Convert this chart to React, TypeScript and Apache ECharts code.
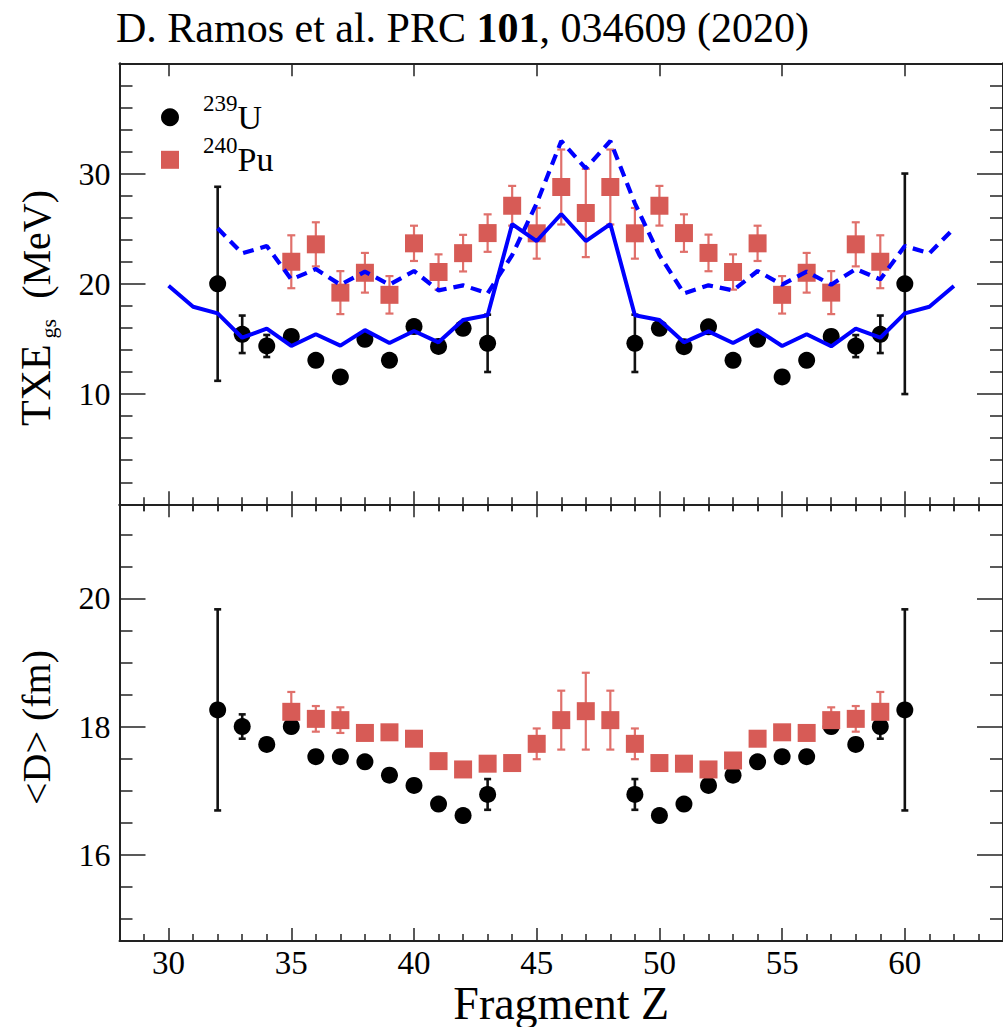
import React, { useEffect, useRef } from 'react';
import * as echarts from 'echarts';

const FONT = 'Liberation Serif';

// ---------- tick values ----------
const xMajor = [30, 35, 40, 45, 50, 55, 60];
const xMinor = [29, 31, 32, 33, 34, 36, 37, 38, 39, 41, 42, 43, 44, 46, 47, 48, 49, 51, 52, 53, 54, 56, 57, 58, 59, 61, 62, 63];
const topYMajor = [0, 10, 20, 30, 40];
const topYLabels = [10, 20, 30];
const topYMinor = [2, 4, 6, 8, 12, 14, 16, 18, 22, 24, 26, 28, 32, 34, 36, 38];
const botYMajor = [16, 18, 20];
const botYMinor = [15, 15.5, 16.5, 17, 17.5, 18.5, 19, 19.5, 20.5, 21];

// ---------- data: 239U ----------
const zU = [32, 33, 34, 35, 36, 37, 38, 39, 40, 41, 42, 43, 49, 50, 51, 52, 53, 54, 55, 56, 57, 58, 59, 60];
const uTxe = [20.0, 15.42, 14.36, 15.23, 13.06, 11.55, 14.96, 13.06, 16.12, 14.32, 15.96, 14.6, 14.6, 15.96, 14.3, 16.1, 13.06, 14.96, 11.55, 13.06, 15.23, 14.35, 15.42, 20.0];
const uTxeErr = [8.8, 1.7, 1.0, 0, 0, 0, 0, 0, 0, 0, 0, 2.6, 2.6, 0, 0, 0, 0, 0, 0, 0, 0, 1.0, 1.7, 10.0];
const uD = [18.26, 18.0, 17.72, 18.0, 17.53, 17.53, 17.45, 17.24, 17.08, 16.79, 16.61, 16.94, 16.94, 16.61, 16.79, 17.08, 17.24, 17.45, 17.53, 17.53, 18.0, 17.72, 18.0, 18.26];
const uDErr = [1.57, 0.19, 0, 0, 0, 0, 0, 0, 0, 0, 0, 0.24, 0.24, 0, 0, 0, 0, 0, 0, 0, 0, 0, 0.19, 1.57];

// ---------- data: 240Pu ----------
const zPu = [35, 36, 37, 38, 39, 40, 41, 42, 43, 44, 45, 46, 47, 48, 49, 50, 51, 52, 53, 54, 55, 56, 57, 58, 59];
const puTxe = [22.0, 23.58, 19.2, 21.0, 19.0, 23.67, 21.07, 22.78, 24.6, 27.08, 24.58, 28.78, 26.42, 28.78, 24.58, 27.08, 24.6, 22.8, 21.07, 23.67, 19.0, 21.0, 19.2, 23.58, 22.0];
const puTxeErr = [2.4, 2.0, 1.95, 1.8, 1.7, 1.6, 1.6, 1.66, 1.7, 1.8, 2.3, 3.4, 4.0, 3.4, 2.3, 1.8, 1.7, 1.66, 1.6, 1.6, 1.7, 1.8, 1.95, 2.0, 2.4];
const puD = [18.23, 18.12, 18.1, 17.9, 17.91, 17.81, 17.46, 17.33, 17.42, 17.43, 17.73, 18.1, 18.24, 18.1, 17.73, 17.43, 17.42, 17.33, 17.47, 17.81, 17.91, 17.9, 18.1, 18.12, 18.23];
const puDErr = [0.31, 0.2, 0.2, 0.05, 0.05, 0, 0, 0, 0, 0.05, 0.24, 0.46, 0.6, 0.46, 0.24, 0.05, 0, 0, 0, 0, 0.05, 0.05, 0.2, 0.2, 0.31];

// ---------- theory curves ----------
const zTheoU = [30, 31, 32, 33, 34, 35, 36, 37, 38, 39, 40, 41, 42, 43, 44, 45, 46, 47, 48, 49, 50, 51, 52, 53, 54, 55, 56, 57, 58, 59, 60, 61, 62];
const theoU = [19.83, 17.92, 17.32, 15.11, 15.93, 14.36, 15.42, 14.39, 15.8, 14.63, 15.72, 14.69, 16.72, 17.14, 25.42, 23.88, 26.33, 23.88, 25.42, 17.14, 16.72, 14.69, 15.68, 14.63, 15.8, 14.36, 15.42, 14.33, 15.93, 15.11, 17.32, 17.92, 19.8];
const zTheoPu = [32, 33, 34, 35, 36, 37, 38, 39, 40, 41, 42, 43, 44, 45, 46, 47, 48, 49, 50, 51, 52, 53, 54, 55, 56, 57, 58, 59, 60, 61, 62];
const theoPu = [25.03, 22.76, 23.43, 20.4, 21.34, 19.92, 21.1, 19.92, 21.16, 19.4, 19.86, 19.13, 22.6, 27.3, 32.95, 30.47, 32.95, 27.3, 22.6, 19.13, 19.86, 19.4, 21.16, 19.92, 21.1, 19.92, 21.34, 20.4, 23.43, 22.76, 25.03];

const AXIS_COLOR = '#222';
const RED = '#d75b56';
const RED_ERR = '#e0706b';
const BLUE = '#0000ff';

const pairs = (xs: number[], ys: number[]) => xs.map((x, i) => [x, ys[i]]);
const errData = (xs: number[], ys: number[], es: number[]) =>
  xs.map((x, i) => [x, ys[i] - es[i], ys[i] + es[i], es[i]]).filter((d) => d[3] > 0);

function errSeries(data: number[][], color: string, width: number, cap: number, axisIdx: number) {
  return {
    type: 'custom',
    xAxisIndex: axisIdx,
    yAxisIndex: axisIdx,
    z: 2,
    silent: true,
    encode: { x: 0, y: [1, 2] },
    data,
    renderItem: (_params: any, api: any) => {
      const x = api.value(0);
      const lo = api.coord([x, api.value(1)]);
      const hi = api.coord([x, api.value(2)]);
      const style = { stroke: color, lineWidth: width };
      return {
        type: 'group',
        children: [
          { type: 'line', shape: { x1: lo[0], y1: lo[1], x2: hi[0], y2: hi[1] }, style },
          { type: 'line', shape: { x1: lo[0] - cap, y1: lo[1], x2: lo[0] + cap, y2: lo[1] }, style },
          { type: 'line', shape: { x1: hi[0] - cap, y1: hi[1], x2: hi[0] + cap, y2: hi[1] }, style },
        ],
      };
    },
  };
}

function makeX(gridIndex: number, labels: boolean) {
  const base: any = { type: 'value', gridIndex, min: 28, max: 64, splitLine: { show: false } };
  const line = { show: true, onZero: false, lineStyle: { color: AXIS_COLOR, width: 2 } };
  const tickStyle = { color: AXIS_COLOR, width: 1.5 };
  const major = { show: true, inside: true, length: 13, customValues: xMajor, lineStyle: tickStyle };
  const minor = { show: true, inside: true, length: 7, customValues: xMinor, lineStyle: tickStyle };
  const hidden = { show: false, customValues: xMajor };
  return [
    {
      ...base,
      position: 'bottom',
      axisLine: line,
      axisTick: major,
      axisLabel: labels
        ? { show: true, customValues: xMajor, margin: 5, fontSize: 33, fontFamily: FONT, color: '#000' }
        : hidden,
      ...(labels
        ? {
            name: 'Fragment Z',
            nameLocation: 'middle',
            nameGap: 32,
            nameTextStyle: { fontSize: 46, fontFamily: FONT, color: '#000' },
          }
        : {}),
    },
    { ...base, position: 'bottom', axisLine: { show: false }, axisTick: minor, axisLabel: { show: false, customValues: xMinor } },
    { ...base, position: 'top', axisLine: line, axisTick: major, axisLabel: hidden },
    { ...base, position: 'top', axisLine: { show: false }, axisTick: minor, axisLabel: { show: false, customValues: xMinor } },
  ];
}

function makeY(gridIndex: number, min: number, max: number, major: number[], labelVals: number[], minorVals: number[]) {
  const base: any = { type: 'value', gridIndex, min, max, splitLine: { show: false } };
  const line = { show: true, onZero: false, lineStyle: { color: AXIS_COLOR, width: 2 } };
  const tickStyle = { color: AXIS_COLOR, width: 1.5 };
  const majorTick = { show: true, inside: true, length: 26, customValues: major, lineStyle: tickStyle };
  const minorTick = { show: true, inside: true, length: 13, customValues: minorVals, lineStyle: tickStyle };
  return [
    {
      ...base,
      position: 'left',
      axisLine: line,
      axisTick: majorTick,
      axisLabel: {
        show: true,
        customValues: labelVals,
        margin: 9,
        fontSize: 32,
        fontFamily: FONT,
        color: '#000',
        padding: [0, 0, 8, 0],
      },
    },
    { ...base, position: 'left', axisLine: { show: false }, axisTick: minorTick, axisLabel: { show: false, customValues: minorVals } },
    { ...base, position: 'right', axisLine: line, axisTick: majorTick, axisLabel: { show: false, customValues: labelVals } },
    { ...base, position: 'right', axisLine: { show: false }, axisTick: minorTick, axisLabel: { show: false, customValues: minorVals } },
  ];
}

function legendFor(name: string, sup: string, main: string, top: number) {
  return {
    data: [name],
    left: 161,
    top,
    orient: 'vertical',
    padding: 0,
    itemWidth: 18,
    itemHeight: 18,
    selectedMode: false,
    formatter: () => `{a|${sup}}{b|${main}}`,
    textStyle: {
      fontFamily: FONT,
      color: '#000',
      rich: {
        a: { fontFamily: FONT, fontSize: 23, lineHeight: 40, padding: [0, 0, 28, 19], color: '#000' },
        b: { fontFamily: FONT, fontSize: 34, lineHeight: 40, color: '#000' },
      },
    },
  };
}

export default function App() {
  const ref = useRef<HTMLDivElement>(null);

  useEffect(() => {
    if (!ref.current) return;
    const chart = echarts.init(ref.current, undefined, { renderer: 'svg' });

    const option: any = {
      animation: false,
      backgroundColor: '#fff',
      textStyle: { fontFamily: FONT },
      grid: [
        { left: 119.5, top: 63.3, width: 890.5, height: 441 },
        { left: 119.5, top: 504.3, width: 890.5, height: 440.7 },
      ],
      xAxis: [...makeX(0, false), ...makeX(1, true)],
      yAxis: [
        ...makeY(0, 0, 40, topYMajor, topYLabels, topYMinor),
        ...makeY(1, 14.65, 21.47, botYMajor, botYMajor, botYMinor),
      ],
      legend: [legendFor('239U', '239', 'U', 91.7), legendFor('240Pu', '240', 'Pu', 134.3)],
      graphic: [
        {
          type: 'text',
          x: 116,
          y: 28,
          style: {
            text: 'D. Ramos et al. PRC {b|101}, 034609 (2020)',
            font: `42px ${FONT}`,
            fill: '#000',
            verticalAlign: 'middle',
            rich: {
              b: { fontFamily: FONT, fontSize: 42, fontWeight: 'bold', fill: '#000' },
            },
          },
        },
        {
          type: 'text',
          x: 36,
          y: 308,
          rotation: Math.PI / 2,
          style: {
            text: '{t|TXE}{s|gs}{n|  (MeV)}',
            font: `40px ${FONT}`,
            fill: '#000',
            align: 'center',
            verticalAlign: 'middle',
            rich: {
              t: { fontFamily: FONT, fontSize: 42, lineHeight: 46, fill: '#000' },
              s: { fontFamily: FONT, fontSize: 22, lineHeight: 46, padding: [24, 0, 0, 6], fill: '#000' },
              n: { fontFamily: FONT, fontSize: 40, lineHeight: 46, fill: '#000' },
            },
          },
        },
        {
          type: 'text',
          x: 36,
          y: 727.5,
          rotation: Math.PI / 2,
          style: {
            text: '<D> (fm)',
            font: `40px ${FONT}`,
            fill: '#000',
            align: 'center',
            verticalAlign: 'middle',
          },
        },
      ],
      series: [
        // ---- top panel ----
        errSeries(errData(zU, uTxe, uTxeErr), '#111', 2.6, 3.5, 0),
        errSeries(errData(zPu, puTxe, puTxeErr), RED_ERR, 2.2, 4, 0),
        {
          name: '239U',
          type: 'scatter',
          xAxisIndex: 0,
          yAxisIndex: 0,
          symbol: 'circle',
          symbolSize: 17,
          itemStyle: { color: '#000', opacity: 1 },
          z: 3,
          data: pairs(zU, uTxe),
        },
        {
          name: '240Pu',
          type: 'scatter',
          xAxisIndex: 0,
          yAxisIndex: 0,
          symbol: 'rect',
          symbolSize: 18,
          itemStyle: { color: RED, opacity: 1 },
          z: 3,
          data: pairs(zPu, puTxe),
        },
        {
          name: 'theoU',
          type: 'line',
          xAxisIndex: 0,
          yAxisIndex: 0,
          symbol: 'none',
          lineStyle: { color: BLUE, width: 4 },
          z: 4,
          data: pairs(zTheoU, theoU),
        },
        {
          name: 'theoPu',
          type: 'line',
          xAxisIndex: 0,
          yAxisIndex: 0,
          symbol: 'none',
          lineStyle: { color: BLUE, width: 4.2, type: [11, 7] },
          z: 4,
          data: pairs(zTheoPu, theoPu),
        },
        // ---- bottom panel ----
        errSeries(errData(zU, uD, uDErr), '#111', 2.6, 3.5, 4),
        errSeries(errData(zPu, puD, puDErr), RED_ERR, 2.2, 4, 4),
        {
          name: '239U',
          type: 'scatter',
          xAxisIndex: 4,
          yAxisIndex: 4,
          symbol: 'circle',
          symbolSize: 17,
          itemStyle: { color: '#000', opacity: 1 },
          z: 3,
          data: pairs(zU, uD),
        },
        {
          name: '240Pu',
          type: 'scatter',
          xAxisIndex: 4,
          yAxisIndex: 4,
          symbol: 'rect',
          symbolSize: 18,
          itemStyle: { color: RED, opacity: 1 },
          z: 3,
          data: pairs(zPu, puD),
        },
      ],
    };

    chart.setOption(option);
    return () => chart.dispose();
  }, []);

  return (
    <div
      ref={ref}
      style={{ position: 'absolute', left: 0, top: 0, width: 1003, height: 1027, background: '#fff' }}
    />
  );
}
